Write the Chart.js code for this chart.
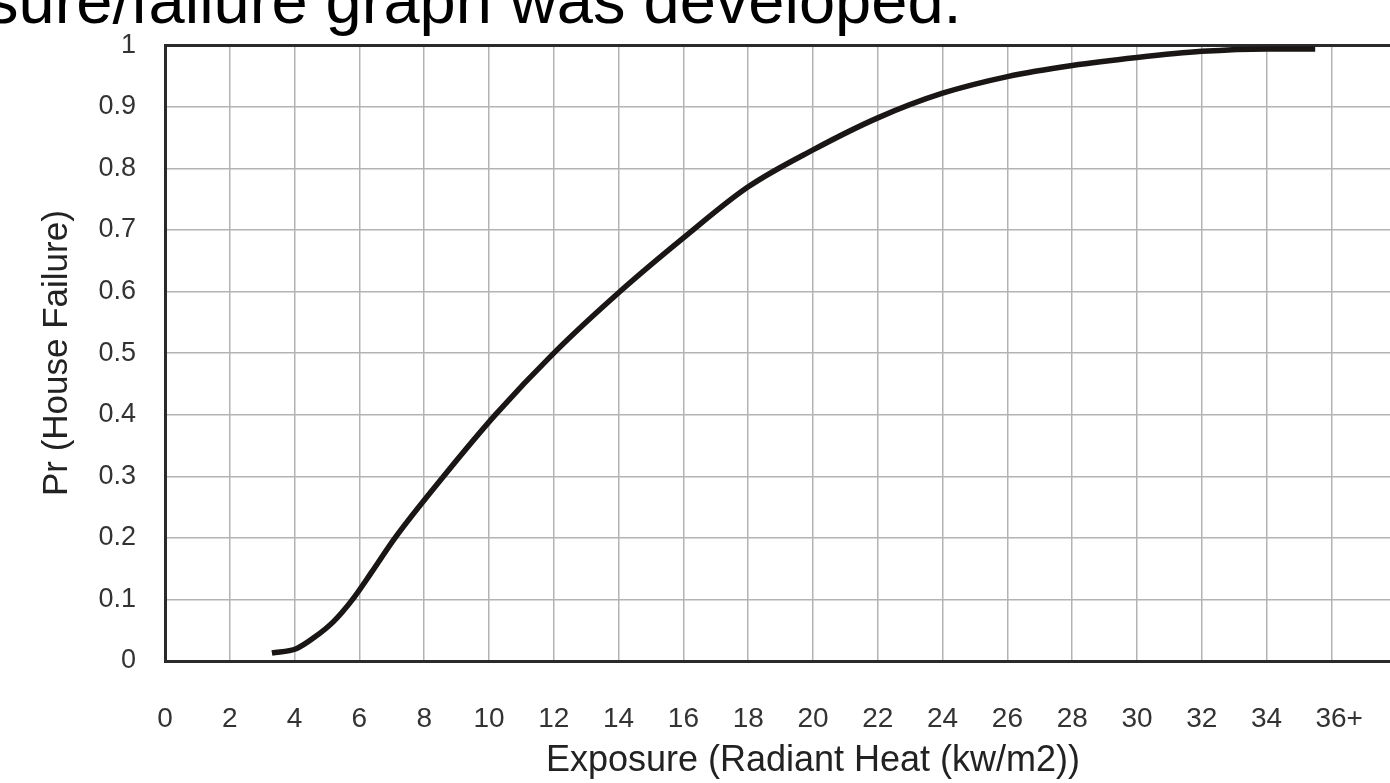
<!DOCTYPE html>
<html>
<head>
<meta charset="utf-8">
<script src="https://cdn.jsdelivr.net/npm/chart.js@4.4.1/dist/chart.umd.min.js"></script>
<style>
html,body{margin:0;padding:0;background:#fff;overflow:hidden;width:1390px;height:783px;}
#heading{position:absolute;left:-14px;top:-32px;font-family:"Liberation Sans",Arial,sans-serif;font-size:65px;line-height:65px;color:#000;white-space:nowrap;}
#wrap{position:absolute;left:0;top:0;width:1470px;height:783px;}
#chart{width:1470px;height:783px;}
</style>
</head>
<body>
<div id="heading">sure/failure graph was developed.</div>
<div id="wrap"><canvas id="chart" width="1470" height="783"></canvas></div>
<script>
// curve
const exposure=[3.3,4.05,4.6,5.2,5.76,6.4,7.1,8.6,10.2,12,14,16,18,20,22,24,26,28,30,32,34,35.5];
const failure=[0.013,0.02,0.038,0.064,0.098,0.146,0.2,0.3,0.4,0.5,0.598,0.687,0.77,0.83,0.882,0.922,0.949,0.967,0.98,0.99,0.994,0.994];

const xTickLabels=["0","2","4","6","8","10","12","14","16","18","20","22","24","26","28","30","32","34","36+"];
const yTickLabels=["0","0.1","0.2","0.3","0.4","0.5","0.6","0.7","0.8","0.9","1"];

const fontName='"Liberation Sans", Arial, sans-serif';
const gridGray='#b3b3b3';

const points=exposure.map((x,i)=>({x:x,y:failure[i]}));

new Chart(document.getElementById('chart'),{
    type:'line',
    data:{
        datasets:[{
            data:points,
            borderColor:'#1a1616',
            borderWidth:5.5,
            borderCapStyle:'butt',
            pointRadius:0,
            fill:false,
            cubicInterpolationMode:'monotone'
        }]
    },
    options:{
        responsive:false,
        animation:false,
        layout:{padding:{top:42,right:9,left:0,bottom:0}},
        plugins:{legend:{display:false},tooltip:{enabled:false}},
        scales:{
            x:{
                type:'linear',
                min:0,
                max:40,
                afterFit:function(scale){
                    scale.height=122;
                    scale.paddingRight=0;
                },
                afterBuildTicks:function(scale){
                    scale.ticks=[];
                    for(let v=0;v<=40;v+=2) scale.ticks.push({value:v});
                },
                ticks:{
                    padding:41,
                    color:'#333',
                    font:{family:fontName,size:28},
                    maxRotation:0,
                    autoSkip:false,
                    callback:function(value){
                        const label=xTickLabels[Math.round(value/2)];
                        if(label===undefined) return '';
                        return label==="36+" ? "  36+" : label;
                    }
                },
                grid:{color:gridGray,lineWidth:1.5,drawTicks:false},
                border:{display:true,color:'#2a2a2a',width:3},
                title:{
                    display:true,
                    text:'Exposure (Radiant Heat (kw/m2))',
                    color:'#222',
                    font:{family:fontName,size:36},
                    padding:{top:0,bottom:0}
                }
            },
            y:{
                type:'linear',
                min:0,
                max:1,
                afterFit:function(scale){scale.width=165;},
                afterBuildTicks:function(scale){
                    scale.ticks=yTickLabels.map((t,i)=>({value:i/10}));
                },
                ticks:{
                    padding:29,
                    color:'#333',
                    font:{family:fontName,size:27},
                    callback:function(value){
                        return yTickLabels[Math.round(value*10)];
                    }
                },
                grid:{
                    color:function(ctx){return ctx.tick&&ctx.tick.value===1 ? '#2a2a2a' : gridGray;},
                    lineWidth:function(ctx){return ctx.tick&&ctx.tick.value===1 ? 3 : 1.5;},
                    drawTicks:false
                },
                border:{display:true,color:'#2a2a2a',width:3},
                title:{
                    display:true,
                    text:'Pr (House Failure)',
                    color:'#222',
                    font:{family:fontName,size:35},
                    padding:{top:36,bottom:0}
                }
            }
        }
    }
});
</script>
</body>
</html>
